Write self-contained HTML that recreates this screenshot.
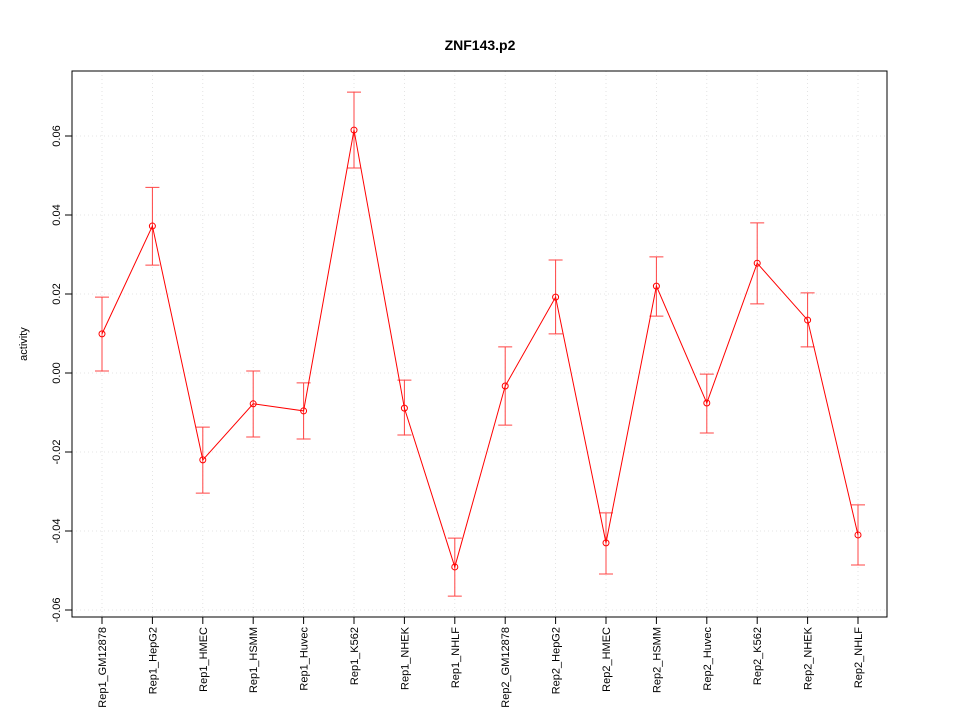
<!DOCTYPE html>
<html><head><meta charset="utf-8"><style>body{margin:0;background:#fff}svg{display:block;font-family:"Liberation Sans",sans-serif}</style></head>
<body>
<svg id="chart" width="960" height="720"></svg>
<script>
const categories=["Rep1_GM12878","Rep1_HepG2","Rep1_HMEC","Rep1_HSMM","Rep1_Huvec","Rep1_K562","Rep1_NHEK","Rep1_NHLF","Rep2_GM12878","Rep2_HepG2","Rep2_HMEC","Rep2_HSMM","Rep2_Huvec","Rep2_K562","Rep2_NHEK","Rep2_NHLF"];
const values=[0.0099,0.0372,-0.022,-0.0078,-0.0096,0.0615,-0.0089,-0.0491,-0.0033,0.0192,-0.043,0.022,-0.0076,0.0278,0.0134,-0.041];
const upper=[0.0192,0.047,-0.0137,0.0005,-0.0025,0.0711,-0.0018,-0.0418,0.0066,0.0286,-0.0354,0.0294,-0.0003,0.038,0.0203,-0.0334];
const lower=[0.0005,0.0273,-0.0304,-0.0162,-0.0167,0.0519,-0.0157,-0.0565,-0.0132,0.0099,-0.0509,0.0144,-0.0152,0.0175,0.0066,-0.0486];
const yTicks=[-0.06,-0.04,-0.02,0,0.02,0.04,0.06];
const yTickLabels=["-0.06","-0.04","-0.02","0.00","0.02","0.04","0.06"];
const NS="http://www.w3.org/2000/svg",svg=document.getElementById('chart');
const L=72,R=887,T=71,B=617;
const x=i=>102+i*(858-102)/(categories.length-1);
const y=v=>373-v*3950;
function add(tag,a,parent){const e=document.createElementNS(NS,tag);for(const k in a)e.setAttribute(k,a[k]);(parent||svg).appendChild(e);return e;}
let t=add('text',{x:480,y:50,'text-anchor':'middle','font-size':14,'font-weight':'bold'});t.textContent="ZNF143.p2";


t=add('text',{x:27,y:344,'text-anchor':'middle','font-size':11,transform:'rotate(-90 27 344)'});t.textContent="activity";


categories.forEach((c,i)=>{const g=add('line',{x1:x(i),x2:x(i),y1:T,y2:B,stroke:'#ddd','stroke-width':0.8,'stroke-dasharray':'1,3'});


const tk=add('line',{x1:x(i),x2:x(i),y1:B,y2:B+7,stroke:'#000'});


const lb=add('text',{x:x(i)+4,y:B+10,'text-anchor':'end','font-size':11,transform:`rotate(-90 ${x(i)+4} ${B+10})`});lb.textContent=c;

});
yTicks.forEach((v,i)=>{const g=add('line',{x1:L,x2:R,y1:y(v),y2:y(v),stroke:'#ddd','stroke-width':0.8,'stroke-dasharray':'1,3'});


const tk=add('line',{x1:L-7,x2:L,y1:y(v),y2:y(v),stroke:'#000'});


const lb=add('text',{x:L-12,y:y(v),'text-anchor':'middle','font-size':11,transform:`rotate(-90 ${L-12} ${y(v)})`});lb.textContent=yTickLabels[i];

});
const fr=add('rect',{x:L,y:T,width:R-L,height:B-T,fill:'none',stroke:'#000'});


categories.forEach((c,i)=>{const xi=x(i);
const e1=add('path',{d:`M${xi},${y(values[i])}V${y(upper[i])}M${xi-7},${y(upper[i])}H${xi+7}`,stroke:'#f44',fill:'none'});


const e2=add('path',{d:`M${xi},${y(values[i])}V${y(lower[i])}M${xi-7},${y(lower[i])}H${xi+7}`,stroke:'#f44',fill:'none'});

});
const ln=add('polyline',{points:values.map((v,i)=>x(i)+','+y(v)).join(' '),fill:'none',stroke:'#f00'});


values.forEach((v,i)=>{const p=add('circle',{cx:x(i),cy:y(v),r:3,fill:'none',stroke:'#f00'});

});
</script>
</body></html>
